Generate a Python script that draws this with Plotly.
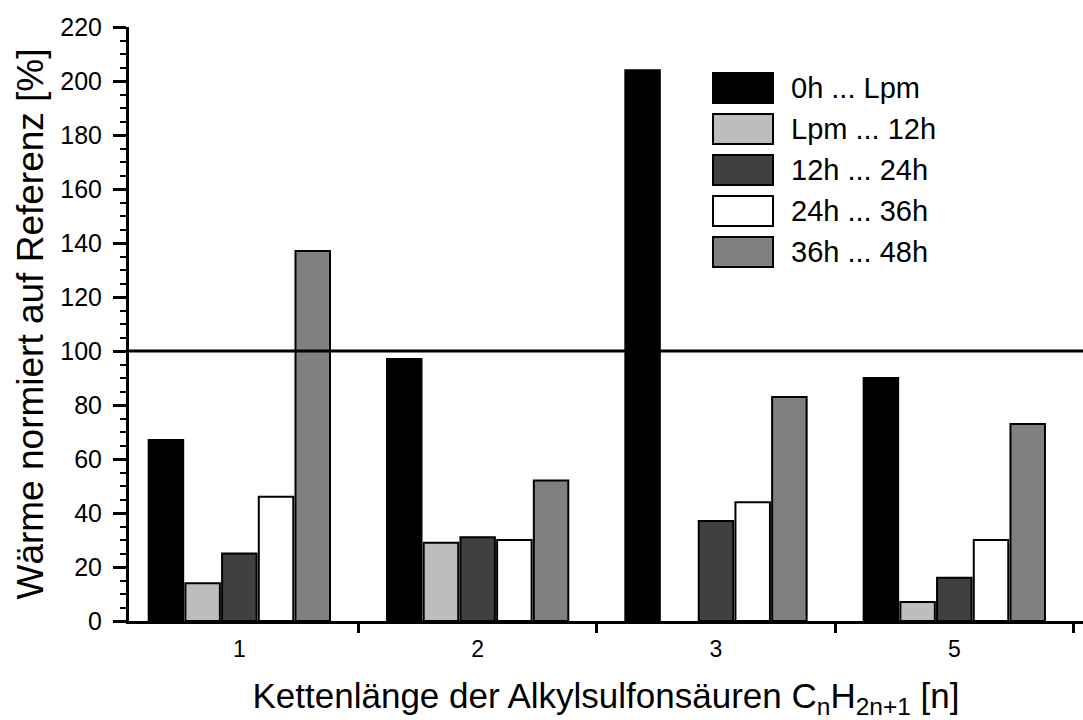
import plotly.graph_objects as go

categories = ["1", "2", "3", "5"]
series_names = ["0h ... Lpm", "Lpm ... 12h", "12h ... 24h", "24h ... 36h", "36h ... 48h"]
series_colors = ["#000000", "#bdbdbd", "#404040", "#ffffff", "#808080"]
v_0h_lpm = [67, 97, 204, 90]
v_lpm_12h = [14, 29, None, 7]
v_12h_24h = [25, 31, 37, 16]
v_24h_36h = [46, 30, 44, 30]
v_36h_48h = [137, 52, 83, 73]
series_values = [v_0h_lpm, v_lpm_12h, v_12h_24h, v_24h_36h, v_36h_48h]
y_ticks = [0, 20, 40, 60, 80, 100, 120, 140, 160, 180, 200, 220]
reference_level = 100

FONT = "Liberation Sans, Arial, sans-serif"
W, H = 1083, 720
ML, MR, MT, MB = 129, 0, 27, 99
PW, PH = W - ML - MR, H - MT - MB

fig = go.Figure()
for name, color, vals in zip(series_names, series_colors, series_values):
    fig.add_trace(go.Bar(
        x=categories, y=vals, name=name,
        marker=dict(color=color, line=dict(color="black", width=2)),
        showlegend=False,
    ))

fig.add_hline(y=reference_level, line=dict(color="black", width=3))

# custom legend with large swatches (layout only)
def px_x(p):
    return (p - ML) / PW

def px_y(p):
    return (H - MB - p) / PH

box_x0, box_x1, box_top, box_h, row_step, text_x = 713, 773, 73, 30, 41, 789
for i, (name, color) in enumerate(zip(series_names, series_colors)):
    top = box_top + i * row_step
    fig.add_shape(type="rect", xref="paper", yref="paper",
                  x0=px_x(box_x0), x1=px_x(box_x1), y0=px_y(top + box_h), y1=px_y(top),
                  fillcolor=color, line=dict(color="black", width=2))
    fig.add_annotation(xref="paper", yref="paper", x=px_x(text_x), y=px_y(top + box_h / 2),
                       text=name, showarrow=False, xanchor="left", yanchor="middle",
                       font=dict(family=FONT, size=29, color="black"))

fig.update_layout(
    width=W, height=H,
    margin=dict(l=ML, r=MR, t=MT, b=MB),
    paper_bgcolor="white", plot_bgcolor="white",
    barmode="group", bargap=0.23, bargroupgap=0.06,
    font=dict(family=FONT, color="black"),
    xaxis=dict(
        type="category", range=[-0.463, 3.54],
        showline=True, linecolor="black", linewidth=3,
        ticks="outside", tickson="boundaries", ticklen=9, tickwidth=2.5, tickcolor="black",
        tickfont=dict(family=FONT, size=23, color="black"), ticklabelstandoff=5,
        showgrid=False, zeroline=False,
        title=dict(text="Kettenlänge der Alkylsulfonsäuren C<sub>n</sub>H<sub>2n+1</sub> [n]",
                   font=dict(family=FONT, size=35, color="black"), standoff=26),
    ),
    yaxis=dict(
        range=[0, 220], tickvals=y_ticks,
        showline=True, linecolor="black", linewidth=3,
        ticks="outside", ticklen=13, tickwidth=2.5, tickcolor="black",
        minor=dict(dtick=5, ticks="outside", ticklen=6, tickwidth=2, tickcolor="black"),
        tickfont=dict(family=FONT, size=25, color="black"), ticklabelstandoff=6,
        showgrid=False, zeroline=False,
        title=dict(text="Wärme normiert auf Referenz [%]",
                   font=dict(family=FONT, size=37, color="black"), standoff=6),
    ),
)

fig.write_html("out.html")
